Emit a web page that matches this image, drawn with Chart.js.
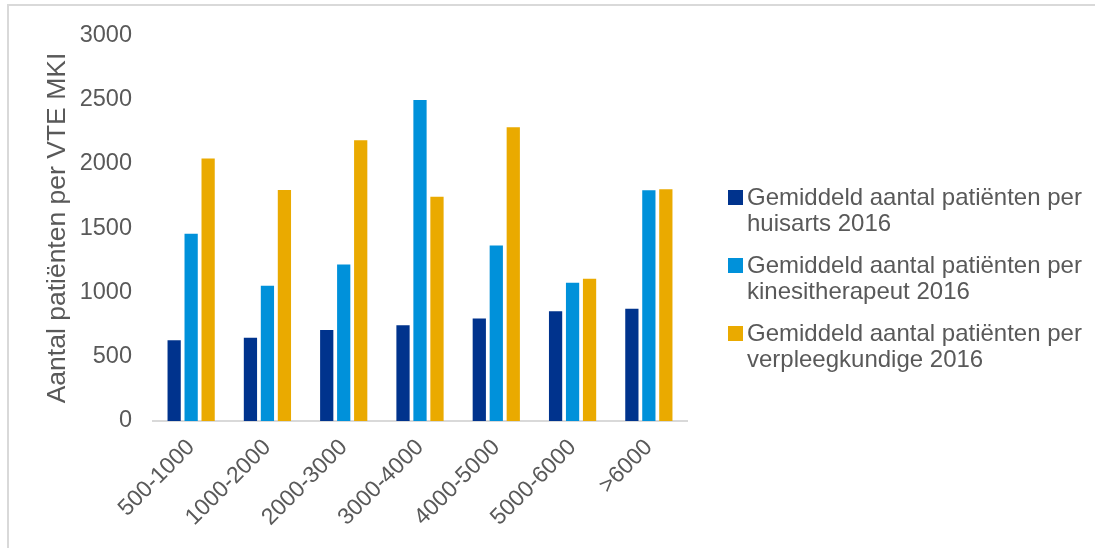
<!DOCTYPE html>
<html>
<head>
<meta charset="utf-8">
<script src="https://cdn.jsdelivr.net/npm/chart.js@4/dist/chart.umd.min.js"></script>
<style>
  body { margin: 0; background: #fff; }
  #wrap { position: relative; width: 1095px; height: 548px; overflow: hidden; }
  #frame { position: absolute; left: 7px; top: 4px; width: 1200px; height: 600px;
           border-top: 2px solid #d9d9d9; border-left: 2px solid #d9d9d9; }
  #chart { position: absolute; left: 0; top: 0; }
  #legend { position: absolute; left: 728px; top: 184px; width: 360px;
            font-family: "Liberation Sans", Arial, sans-serif; font-size: 24px;
            line-height: 26px; color: #595959; }
  .item { display: flex; align-items: flex-start; margin-bottom: 16px; }
  .box { width: 15px; height: 15px; margin-top: 6px; margin-right: 4px; flex: none; }
</style>
</head>
<body>
<div id="wrap">
  <div id="frame"></div>
  <canvas id="chart" width="1095" height="548"></canvas>
  <div id="legend"></div>
</div>
<script>
// gemeentegrootte (inwoners)
var categorieen = ['500-1000', '1000-2000', '2000-3000', '3000-4000', '4000-5000', '5000-6000', '>6000'];
var huisarts = [628, 647, 707, 745, 797, 854, 872];
var kine = [1455, 1051, 1216, 2495, 1364, 1074, 1793];
var verpleeg = [2040, 1796, 2182, 1744, 2283, 1105, 1801];
var labels = ['Gemiddeld aantal patiënten per huisarts 2016',
              'Gemiddeld aantal patiënten per kinesitherapeut 2016',
              'Gemiddeld aantal patiënten per verpleegkundige 2016'];
var kleuren = ['#00338D', '#0091DA', '#EAAA00'];
var yTicks = [0, 500, 1000, 1500, 2000, 2500, 3000];

var grijs = '#595959';
var font = 'Liberation Sans';
var reeksen = [huisarts, kine, verpleeg];

var datasets = [];
for (var i = 0; i < reeksen.length; i++) {
    datasets.push({
        label: labels[i],
        data: reeksen[i],
        backgroundColor: kleuren[i],
        borderWidth: 0,
        categoryPercentage: 0.668,
        barPercentage: 0.78
    });
}

new Chart(document.getElementById('chart'), {
    type: 'bar',
    data: { labels: categorieen, datasets: datasets },
    options: {
        responsive: false,
        animation: false,
        devicePixelRatio: 1,
        layout: { padding: { left: 44, top: 34, right: 408, bottom: 0 } },
        plugins: {
            legend: { display: false },
            tooltip: { enabled: false }
        },
        scales: {
            x: {
                grid: { display: false, drawTicks: false },
                border: { display: true, color: '#d9d9d9', width: 2 },
                ticks: {
                    color: grijs,
                    font: { family: font, size: 23 },
                    minRotation: 45,
                    maxRotation: 45,
                    padding: 13,
                    autoSkip: false
                },
                afterFit: function (scale) { scale.height = 127; }
            },
            y: {
                min: 0,
                max: 3000,
                grid: { display: false, drawTicks: false },
                border: { display: false },
                ticks: {
                    color: grijs,
                    font: { family: font, size: 23.5 },
                    padding: 21,
                    stepSize: 500,
                    callback: function (v) { return String(v); }
                },
                afterBuildTicks: function (scale) {
                    scale.ticks = yTicks.map(function (v) { return { value: v }; });
                },
                title: {
                    display: true,
                    text: 'Aantal patiënten per VTE MKI',
                    color: grijs,
                    font: { family: font, size: 26.5, lineHeight: 1 },
                    padding: { top: 0, bottom: 0 }
                },
                afterFit: function (scale) { scale.width = 109; }
            }
        }
    }
});

// legenda
var legend = document.getElementById('legend');
for (var j = 0; j < labels.length; j++) {
    var item = document.createElement('div');
    item.className = 'item';
    item.innerHTML = '<div class="box" style="background:' + kleuren[j] + '"></div><div>' + labels[j] + '</div>';
    legend.appendChild(item);
}
</script>
</body>
</html>
